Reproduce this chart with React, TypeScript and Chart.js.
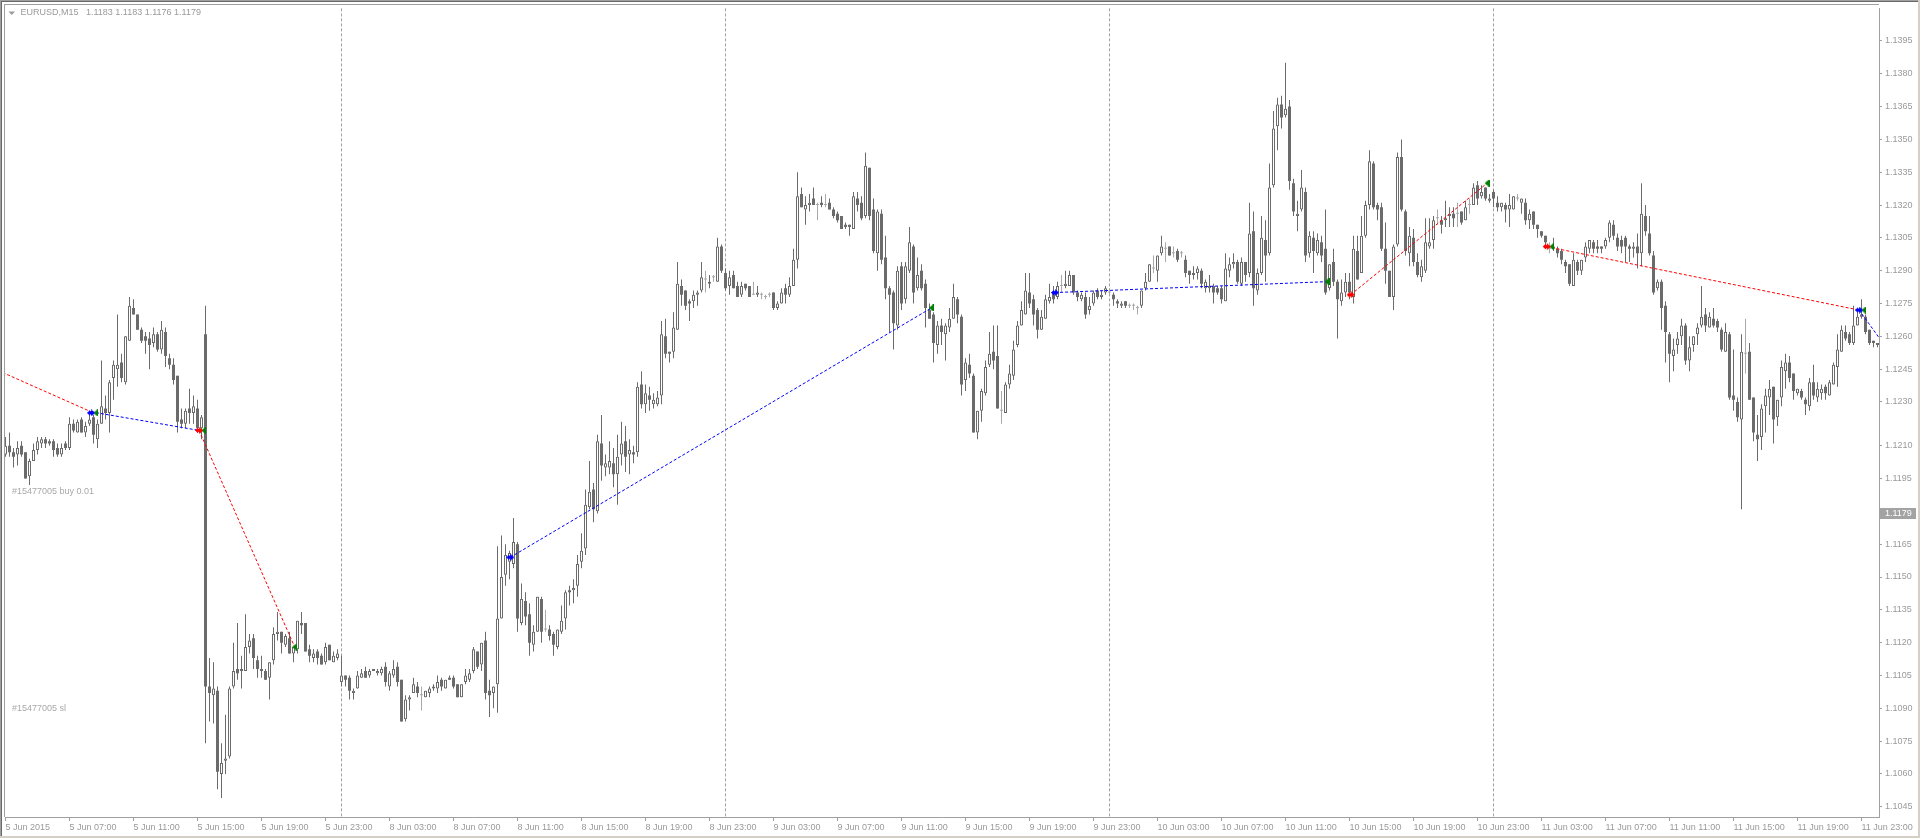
import React, { useEffect, useRef } from "react";
import { Chart, registerables } from "chart.js";

Chart.register(...registerables);

// Candles: [open, high, low, close] in pips above 1.1000 (1 pip = 0.0001), M15 bars
const PRICE_BASE = 1.1;
const PIP = 0.0001;

const jun05 = [
  [206,214,205,210],[210,216,205,207],[207,209,200,205],[206,212,201,209],[210,212,205,206],
  [207,207,195,195],[196,204,192,203],[203,211,203,208],[208,214,206,212],[211,214,209,213],
  [213,214,209,211],[212,213,210,211],[212,213,205,208],[209,211,205,206],[206,211,205,209],
  [211,212,208,209],[209,223,208,220],[220,222,216,217],[216,222,216,221],[222,223,216,216],
  [216,221,214,219],[220,224,219,222],[223,224,211,215],[213,222,209,220],[220,249,220,228],
  [227,233,222,225],[225,240,216,239],[241,249,231,247],[245,270,237,247],[248,252,239,241],
  [239,260,238,260],[258,278,258,274],[273,277,270,270],[270,270,263,263],[263,264,257,258],
  [260,262,252,258],[259,262,245,256],[257,264,255,261],[261,262,253,254],[254,267,252,263],
  [262,264,246,251],[250,252,245,247],[247,250,238,240],[242,242,216,221],[222,227,218,220],
  [220,227,218,226],[227,236,220,225],[225,233,220,228],[227,231,216,218],[218,224,213,223],
  [261,274,74,100],[100,113,84,97],[96,111,83,99],[98,100,53,61],[60,74,49,65],
  [66,87,60,67],[68,100,67,99],[100,120,99,107],[108,129,103,106],[107,114,99,108],
  [107,133,107,118],[118,124,115,121],[122,124,108,113],[112,114,104,108],[107,114,104,108],
  [107,108,103,103],[104,111,94,111],[112,127,110,124],[124,134,121,125],[125,125,115,120],
  [119,124,118,123],[122,125,115,115],[115,118,111,118],[117,130,115,130],[129,134,124,128],
  [129,129,116,116],[117,119,111,114],[113,117,111,115],[116,117,110,113],[114,115,110,110],
  [111,120,110,118],[119,119,112,112],[111,116,111,114],[113,117,112,115],
];

const jun08 = [
  [102,114,100,105],[105,105,100,103],[104,105,94,98],[97,99,94,98],[99,107,99,105],
  [104,108,104,106],[107,109,104,104],[105,108,104,107],[108,108,107,107],[106,108,105,107],
  [106,109,105,108],[109,111,100,102],[100,107,98,106],[105,112,104,108],[109,111,100,102],
  [103,103,84,84],[85,96,84,94],[94,96,89,95],[97,104,97,101],[100,102,95,97],
  [96,100,89,96],[95,98,95,98],[97,100,95,99],[99,101,98,100],[99,105,97,102],
  [103,104,98,100],[99,103,99,103],[104,105,103,103],[104,105,99,100],[101,101,95,95],
  [95,101,95,101],[102,108,101,105],[103,108,102,106],[107,118,106,117],[116,116,108,109],
  [110,120,107,120],[121,125,94,97],[98,103,86,96],[97,100,90,100],[101,164,88,131],
  [131,169,131,150],[151,165,146,160],[157,162,149,161],[156,177,154,166],[165,166,125,131],
  [129,147,128,140],[139,143,128,132],[133,138,114,120],[119,128,116,125],[125,141,125,141],
  [140,141,120,125],[126,135,125,126],[126,128,121,123],[124,125,114,119],[118,126,117,126],
  [125,137,124,130],[131,144,126,143],[144,146,137,143],[144,149,138,145],[146,160,141,156],
  [157,170,154,162],[163,190,160,183],[182,203,181,189],[190,193,175,181],[180,215,179,212],
  [211,224,194,201],[200,206,196,202],[200,212,197,203],[202,209,191,197],[197,215,183,205],
  [206,221,201,211],[212,219,198,205],[206,213,197,208],[207,210,202,206],[207,239,205,237],
  [238,244,227,229],[229,238,225,234],[233,237,226,231],[229,234,227,231],[229,235,228,232],
  [233,267,229,261],[260,268,250,252],[253,253,248,252],[253,271,250,264],[263,294,263,284],
  [283,286,274,279],[281,281,272,274],[276,277,267,275],[276,281,273,279],[279,281,274,280],
  [281,294,280,287],[286,290,280,286],[284,288,282,285],[287,288,285,287],[285,305,285,301],
  [301,302,289,290],
];

const jun09 = [
  [289,291,281,282],[283,290,279,287],[288,290,282,282],[283,285,278,278],[279,285,278,283],
  [284,284,281,282],[283,283,278,278],[279,285,279,279],[279,283,278,280],[279,280,277,279],
  [278,279,277,278],[279,280,278,279],[280,280,272,273],[273,276,272,275],[275,282,275,280],
  [282,284,275,279],[279,287,278,283],[283,300,283,295],[295,335,291,324],[325,328,319,319],
  [318,324,311,320],[320,325,317,321],[323,328,320,320],[320,321,313,320],[321,324,319,320],
  [320,325,319,320],[321,323,318,318],[318,319,314,315],[316,317,312,313],[315,315,309,309],
  [311,312,309,310],[311,311,306,310],[309,326,309,324],[323,326,317,320],[321,324,313,314],
  [315,344,314,338],[337,337,313,315],[318,323,298,299],[298,318,290,317],[316,318,293,295],
  [296,306,277,282],[282,283,262,279],[280,281,254,266],[265,292,263,290],[292,294,272,275],
  [277,294,275,292],[290,310,289,303],[301,302,275,280],[282,296,281,288],[290,293,281,282],
  [284,286,264,273],[272,275,268,268],[270,271,248,257],[256,267,252,265],[265,268,256,262],
  [261,266,249,265],[264,273,262,268],[268,284,268,278],[277,278,266,270],[269,270,233,238],
  [240,250,235,248],[247,252,241,243],[242,243,216,216],[216,226,213,226],[226,236,221,235],
  [234,249,233,246],[247,262,246,252],[253,265,245,249],[251,265,227,227],[226,235,220,226],
  [225,239,225,238],[238,247,236,243],[242,258,240,254],[256,267,255,265],[265,276,265,272],
  [270,289,270,281],[280,289,273,275],[277,279,265,270],[272,273,259,263],[263,272,263,269],
  [268,279,268,277],[276,284,275,278],[280,283,275,277],[278,285,277,283],[283,288,280,283],
  [283,290,282,284],[283,290,283,288],[288,288,279,280],[280,281,276,278],[277,280,276,279],
  [278,280,268,270],[272,278,270,274],[275,281,274,280],[281,282,277,278],[278,281,277,279],
  [280,283,279,282],
];

const jun10 = [
  [280,282,279,280],[279,280,274,277],[276,277,273,275],[274,276,273,275],[276,276,273,274],
  [274,275,273,274],[274,275,272,274],[273,274,270,273],[274,281,273,281],[282,289,281,285],
  [285,293,285,293],[291,297,289,291],[290,297,285,297],[298,306,297,301],[300,303,294,300],
  [301,301,297,297],[298,301,296,298],[299,300,294,295],[298,299,296,298],[295,297,287,289],
  [290,290,284,288],[288,292,286,289],[289,292,286,291],[290,291,282,284],[282,286,280,285],
  [282,288,280,283],[283,284,275,280],[282,283,279,280],[282,283,275,277],[276,298,276,291],
  [290,296,287,293],[293,298,291,294],[294,295,284,285],[284,296,283,294],[294,294,285,288],
  [289,321,287,307],[308,317,274,282],[281,291,279,289],[289,315,288,305],[304,313,285,297],
  [298,339,297,328],[329,363,328,355],[356,369,345,366],[366,370,355,360],[361,385,360,364],
  [365,368,327,331],[330,332,315,317],[315,322,308,316],[318,336,317,328],[326,328,294,297],
  [298,308,296,306],[305,308,289,299],[298,307,297,304],[303,306,294,297],[300,318,279,280],
  [282,293,281,293],[294,300,283,285],[285,286,259,277],[276,286,274,280],[280,289,278,285],
  [285,289,277,280],[278,306,275,300],[299,306,286,286],[289,315,289,306],[306,322,305,320],
  [320,345,318,340],[339,340,318,319],[320,321,313,318],[319,321,299,300],[300,312,284,290],
  [290,290,278,278],[278,302,272,301],[302,344,301,342],[342,350,317,318],[317,318,297,299],
  [298,310,292,306],[305,309,292,294],[294,298,287,288],[287,295,285,292],[290,314,289,303],
  [301,314,300,303],[304,315,300,313],[314,318,311,314],[313,315,307,311],[313,322,310,314],
  [315,319,310,316],[316,319,310,314],[316,321,310,316],[317,317,311,312],[313,322,313,319],
  [320,323,316,320],[320,330,320,328],[329,331,320,323],[324,329,323,326],[328,328,322,323],
  [322,325,321,323],
];

const jun11 = [
  [326,327,319,323],[321,324,317,319],[319,321,317,321],[320,321,312,318],[318,325,310,320],
  [318,324,318,324],[323,325,322,323],[321,323,316,323],[321,323,311,313],[313,318,309,316],
  [317,317,309,311],[311,311,305,309],[308,308,305,306],[306,306,300,303],[300,303,298,300],
  [300,305,299,301],[300,301,296,298],[299,300,293,295],[294,295,289,292],[293,293,283,284],
  [283,298,283,295],[294,295,288,290],[290,295,288,295],[296,303,294,301],[300,304,298,304],
  [303,304,298,300],[301,304,298,300],[301,301,298,300],[301,305,300,304],[305,313,303,312],
  [311,313,304,306],[305,307,299,301],[304,306,298,301],[305,306,294,301],[301,302,294,300],
  [300,303,296,301],[301,307,291,298],[298,330,292,316],[315,320,306,308],[307,315,297,298],
  [297,299,279,280],[282,286,281,285],[285,286,263,273],[274,276,248,262],[261,262,239,252],
  [251,259,244,254],[256,262,252,259],[260,268,256,265],[265,266,247,249],[249,260,244,255],
  [256,260,253,260],[261,266,256,264],[265,283,264,269],[270,273,262,265],[264,271,264,269],
  [268,273,264,265],[267,268,262,264],[263,264,253,254],[253,266,253,262],[261,262,231,232],
  [233,254,226,231],[230,232,221,223],[222,261,181,253],[252,268,243,252],[253,257,231,231],
  [232,232,212,216],[215,224,203,213],[214,229,208,227],[228,236,216,233],[232,240,224,236],
  [237,237,211,222],[223,231,219,231],[232,249,228,246],[244,252,236,248],[248,251,239,241],
  [243,243,231,235],[234,236,233,236],[235,236,231,232],[231,232,224,229],[228,241,226,239],
  [239,247,231,233],[232,239,230,236],[234,238,231,236],[237,238,231,234],[233,240,233,239],
  [238,248,238,247],[246,261,237,254],[253,265,253,263],[262,265,258,259],[261,262,256,257],
  [257,274,256,265],[265,271,265,269],[270,277,268,269],[269,270,261,262],[263,263,256,257],
  [258,258,255,257],[256,257,255,257],
];

const symbolTitle = "EURUSD,M15";
const headerOHLC = ["1.1183", "1.1183", "1.1176", "1.1179"];
const lastPrice = 1.1179;

const priceTicks = [
  1.1045, 1.106, 1.1075, 1.109, 1.1105, 1.112, 1.1135, 1.115, 1.1165, 1.1195, 1.121,
  1.123, 1.1245, 1.126, 1.1275, 1.129, 1.1305, 1.132, 1.1335, 1.135, 1.1365, 1.138, 1.1395,
];

const timeTickIndex = [
  0, 16, 32, 48, 64, 80, 96, 112, 128, 144, 160, 176, 192, 208, 224, 240, 256, 272, 288,
  304, 320, 336, 352, 368, 384, 400, 416, 432, 448, 464,
];
const timeTickLabels = [
  "5 Jun 2015", "5 Jun 07:00", "5 Jun 11:00", "5 Jun 15:00", "5 Jun 19:00", "5 Jun 23:00",
  "8 Jun 03:00", "8 Jun 07:00", "8 Jun 11:00", "8 Jun 15:00", "8 Jun 19:00", "8 Jun 23:00",
  "9 Jun 03:00", "9 Jun 07:00", "9 Jun 11:00", "9 Jun 15:00", "9 Jun 19:00", "9 Jun 23:00",
  "10 Jun 03:00", "10 Jun 07:00", "10 Jun 11:00", "10 Jun 15:00", "10 Jun 19:00", "10 Jun 23:00",
  "11 Jun 03:00", "11 Jun 07:00", "11 Jun 11:00", "11 Jun 15:00", "11 Jun 19:00", "11 Jun 23:00",
];

// bar index of each new trading day (period separators)
const daySeparatorIndex = [84, 180, 276, 372];

// trade history: [barIndex, price]
const buyLines = [
  [[21.4, 1.12255], [48.4, 1.1217]],
  [[126.2, 1.1159], [231.5, 1.1273]],
  [[262.4, 1.128], [330.4, 1.1285]],
  [[463.4, 1.1272], [470, 1.12553]],
];
const sellLines = [
  [[-3, 1.12453], [21.4, 1.12255]],
  [[48.4, 1.1217], [72.3, 1.1118]],
  [[336.3, 1.1279], [370.4, 1.133]],
  [[385.3, 1.1301], [463.4, 1.1272]],
];
const buyArrows = [[21.4, 1.1225], [126.2, 1.1159], [262.4, 1.128], [463.4, 1.1272]];
const sellArrows = [[48.4, 1.1217], [336.3, 1.1279], [385.3, 1.1301]];
const closeMarks = [
  [22.6, 1.1225], [49.6, 1.1217], [72.3, 1.1118], [231.5, 1.1273],
  [330.4, 1.1285], [370.4, 1.133], [386.6, 1.1301], [464.6, 1.1272],
];
const orderTextLabels = ["#15477005 buy 0.01", "#15477005 sl"];
const orderTextPrices = [1.1189, 1.109];
const orderTextBar = 1.6;

const FONT = '"Liberation Sans", Arial, sans-serif';
const CANDLE = "#6b6b6b";
const DOJI = "#a9a9a9";
const AXIS = "#a0a0a0";
const TEXT = "#9a9a9a";

function arrowIcon(color: string) {
  const c = document.createElement("canvas");
  c.width = 8;
  c.height = 7;
  const g = c.getContext("2d")!;
  g.fillStyle = color;
  g.fillRect(0, 3, 5, 1);
  g.fillRect(2, 1, 1, 5);
  g.fillRect(1, 2, 3, 3);
  g.beginPath();
  g.moveTo(4, 0);
  g.lineTo(8, 3.5);
  g.lineTo(4, 7);
  g.closePath();
  g.fill();
  return c;
}

function closeIcon(color: string) {
  const c = document.createElement("canvas");
  c.width = 5;
  c.height = 7;
  const g = c.getContext("2d")!;
  g.fillStyle = color;
  g.beginPath();
  g.moveTo(0, 3.5);
  g.lineTo(4, 0);
  g.lineTo(4, 7);
  g.closePath();
  g.fill();
  g.fillRect(4, 0, 1, 7);
  return c;
}

const mt4Plugin = {
  id: "mt4look",
  beforeDraw(chart: any) {
    const ctx = chart.ctx;
    ctx.save();
    ctx.fillStyle = "#ffffff";
    ctx.fillRect(0, 0, chart.width, chart.height);
    ctx.restore();
  },
  beforeDatasetsDraw(chart: any) {
    const { ctx, chartArea, scales } = chart;
    ctx.save();
    ctx.strokeStyle = AXIS;
    ctx.lineWidth = 1;
    ctx.setLineDash([3, 2]);
    for (const idx of daySeparatorIndex) {
      const px = Math.floor(scales.x.getPixelForValue(idx)) + 0.5;
      ctx.beginPath();
      ctx.moveTo(px, chartArea.top);
      ctx.lineTo(px, chartArea.bottom);
      ctx.stroke();
    }
    ctx.restore();
  },
  afterDraw(chart: any) {
    const { ctx, chartArea, scales } = chart;
    const W = chart.width;
    const H = chart.height;
    ctx.save();
    // window frame
    ctx.fillStyle = "#a0a0a0";
    ctx.fillRect(0, 0, W, 1);
    ctx.fillRect(0, 0, 1, H);
    ctx.fillStyle = "#696969";
    ctx.fillRect(1, 1, W - 2, 1);
    ctx.fillRect(1, 1, 1, H - 2);
    ctx.fillStyle = "#d4d0c8";
    ctx.fillRect(0, H - 2, W, 2);
    ctx.fillRect(W - 2, 0, 2, H);
    // chart frame (left / top)
    ctx.fillStyle = AXIS;
    ctx.fillRect(4, 4, Math.round(chartArea.right) - 4, 1);
    ctx.fillRect(4, 4, 1, Math.round(chartArea.bottom) - 4);

    // header
    ctx.font = `9px ${FONT}`;
    ctx.fillStyle = TEXT;
    ctx.textBaseline = "middle";
    ctx.textAlign = "left";
    ctx.beginPath();
    ctx.moveTo(8.5, 11.5);
    ctx.lineTo(15, 11.5);
    ctx.lineTo(11.75, 15);
    ctx.closePath();
    ctx.fill();
    ctx.fillText(symbolTitle, 20.5, 13);
    ctx.fillText(headerOHLC.join(" "), 86, 13);

    // order texts
    ctx.fillStyle = "#a8a8a8";
    orderTextLabels.forEach((t, k) => {
      ctx.fillText(t, scales.x.getPixelForValue(orderTextBar), scales.y.getPixelForValue(orderTextPrices[k]));
    });

    // last price box
    const ly = scales.y.getPixelForValue(lastPrice);
    ctx.fillStyle = "#a3a3a3";
    ctx.fillRect(Math.round(chartArea.right) + 1, Math.round(ly) - 6, 36, 11);
    ctx.fillStyle = "#ffffff";
    ctx.fillText(lastPrice.toFixed(4), Math.round(chartArea.right) + 6, Math.round(ly));
    ctx.restore();
  },
};

export default function App() {
  const ref = useRef<HTMLCanvasElement>(null);

  useEffect(() => {
    document.body.style.margin = "0";
    document.body.style.overflow = "hidden";
    const canvas = ref.current;
    if (!canvas) return;

    const candles = [...jun05, ...jun08, ...jun09, ...jun10, ...jun11];
    const toPrice = (p: number) => +(PRICE_BASE + p * PIP).toFixed(5);
    const kind = candles.map((c) => (c[3] > c[0] ? "up" : c[3] < c[0] ? "down" : "flat"));

    const bodies = candles.map((c, i) => ({ x: i, y: [toPrice(c[0]), toPrice(c[3])] }));
    const wicks = candles.map((c, i) => ({ x: i, y: [toPrice(c[2]), toPrice(c[1])] }));

    const lineDs = (pts: number[][], color: string) => ({
      type: "line" as const,
      data: pts.map((p) => ({ x: p[0], y: p[1] })),
      borderColor: color,
      borderWidth: 1,
      borderDash: [3, 2],
      pointRadius: 0,
      fill: false,
      order: 1,
    });
    const markDs = (pts: number[][], icon: HTMLCanvasElement) => ({
      type: "line" as const,
      data: pts.map((p) => ({ x: p[0], y: p[1] })),
      showLine: false,
      pointStyle: icon,
      pointRadius: 3,
      order: 0,
    });

    const datasets: any[] = [
      {
        type: "bar",
        data: bodies,
        grouped: false,
        barThickness: 3,
        minBarLength: 1,
        inflateAmount: 0,
        borderSkipped: false,
        backgroundColor: kind.map((k) => (k === "up" ? "#ffffff" : k === "down" ? CANDLE : DOJI)),
        borderColor: kind.map((k) => (k === "flat" ? DOJI : CANDLE)),
        borderWidth: kind.map((k) => (k === "up" ? 1 : 0)),
        order: 2,
      },
      {
        type: "bar",
        data: wicks,
        grouped: false,
        barThickness: 1,
        minBarLength: 1,
        inflateAmount: 0,
        borderSkipped: false,
        borderWidth: 0,
        backgroundColor: kind.map((k) => (k === "flat" ? DOJI : CANDLE)),
        order: 3,
      },
      ...buyLines.map((l) => lineDs(l, "#0000ff")),
      ...sellLines.map((l) => lineDs(l, "#ff0000")),
      markDs(buyArrows, arrowIcon("#0000ff")),
      markDs(sellArrows, arrowIcon("#ff0000")),
      markDs(closeMarks, closeIcon("#008000")),
    ];

    const font = { family: FONT, size: 9 };

    const chart = new Chart(canvas, {
      type: "bar",
      data: { datasets },
      plugins: [mt4Plugin],
      options: {
        responsive: false,
        animation: false,
        devicePixelRatio: 1,
        events: [],
        layout: { padding: { left: 5, top: 5, right: 0, bottom: 0 } },
        plugins: { legend: { display: false }, tooltip: { enabled: false } },
        scales: {
          x: {
            type: "linear",
            min: -0.125,
            max: 468.375,
            bounds: "data",
            offset: false,
            grid: { drawOnChartArea: false, drawTicks: true, tickLength: 4, color: AXIS, offset: false },
            border: { display: true, color: AXIS },
            ticks: {
              autoSkip: false,
              maxRotation: 0,
              minRotation: 0,
              align: "start",
              padding: 1,
              color: TEXT,
              font,
              callback: (v: any) => {
                const k = timeTickIndex.indexOf(Number(v));
                return k >= 0 ? timeTickLabels[k] : "";
              },
            },
            afterBuildTicks: (s: any) => {
              s.ticks = timeTickIndex.map((v) => ({ value: v }));
            },
            afterFit: (s: any) => {
              s.height = 21;
            },
          },
          y: {
            type: "linear",
            position: "right",
            min: 1.104031,
            max: 1.140988,
            bounds: "data",
            grid: { drawOnChartArea: false, drawTicks: true, tickLength: 3, color: AXIS },
            border: { display: true, color: AXIS, dash: [3, 2] },
            ticks: {
              autoSkip: false,
              padding: 3,
              color: TEXT,
              font,
              callback: (v: any) => Number(v).toFixed(4),
            },
            afterBuildTicks: (s: any) => {
              s.ticks = priceTicks.map((v) => ({ value: v }));
            },
            afterFit: (s: any) => {
              s.width = 41;
            },
          },
        },
      } as any,
    });

    return () => chart.destroy();
  }, []);

  return (
    <div style={{ width: 1920, height: 838 }}>
      <canvas ref={ref} width={1920} height={838} style={{ display: "block" }} />
    </div>
  );
}
